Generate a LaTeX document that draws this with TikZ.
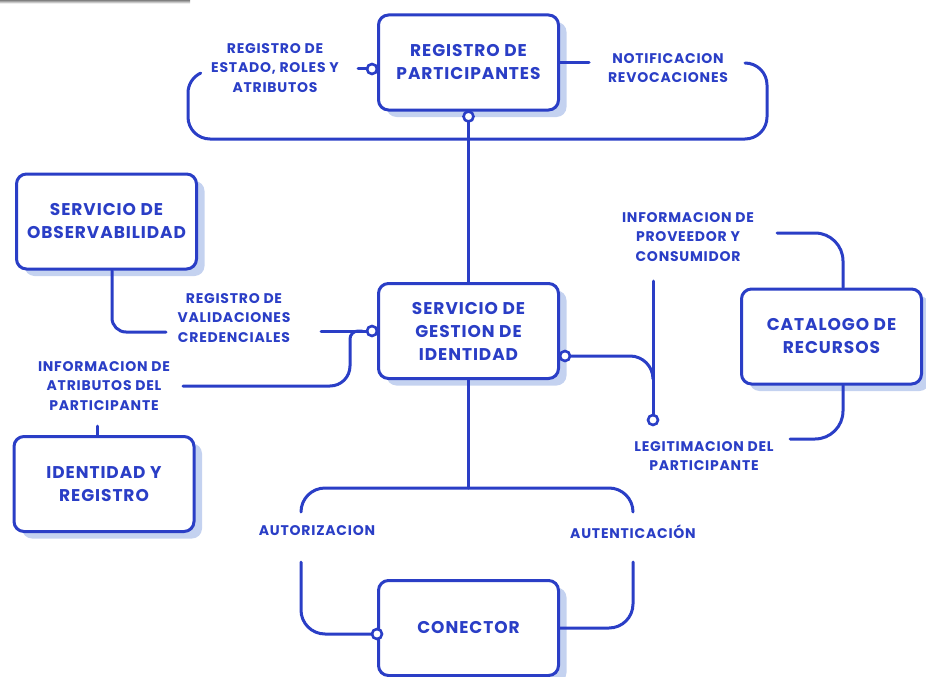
\documentclass[tikz,border=0pt]{standalone}
\usepackage{fontspec}
\setmainfont{Poppins}[LetterSpace=5.5]
\usetikzlibrary{shadows,calc}
\definecolor{ink}{RGB}{42,62,198}
\definecolor{shade}{RGB}{196,210,240}
\begin{document}
\begin{tikzpicture}[x=1pt,y=-1pt,
  box/.style={draw=ink, line width=3pt, rounded corners=10pt, fill=white,
    minimum width=180pt, minimum height=95pt, align=center, text=ink,
    font=\bfseries\fontsize{17}{23}\selectfont,
    drop shadow={shadow xshift=8pt, shadow yshift=-7pt, fill=shade, opacity=1}},
  lbl/.style={text=ink, align=center, inner sep=0pt,
    font=\bfseries\fontsize{14}{19.5}\selectfont},
  wire/.style={draw=ink, line width=3pt, line cap=round},
  dot/.style={circle, draw=ink, line width=2.6pt, fill=white,
    minimum size=10pt, inner sep=0pt, outer sep=0pt}]
\useasboundingbox (0,0) rectangle (926,677);
\fill[shade] (0,0) rectangle (190,3.5);

% boxes
\node[box] (rp)  at (468.5,62.5) {REGISTRO DE\\PARTICIPANTES};
\node[box] (obs) at (106.5,221.5) {SERVICIO DE\\OBSERVABILIDAD};
\node[box] (sgi) at (468.5,331) {SERVICIO DE\\GESTION DE\\IDENTIDAD};
\node[box] (cat) at (831.5,336.5) {CATALOGO DE\\RECURSOS};
\node[box] (iyr) at (104,484) {IDENTIDAD Y\\REGISTRO};
\node[box] (con) at (468.5,628) {CONECTOR};

% labels
\node[lbl] (rpl)  at (275,68)  {REGISTRO DE\\ESTADO, ROLES Y\\ATRIBUTOS};
\node[lbl] (rpr)  at (668,68)  {NOTIFICACION\\REVOCACIONES};
\node[lbl] (val)  at (234,318) {REGISTRO DE\\VALIDACIONES\\CREDENCIALES};
\node[lbl] (att)  at (104,386) {INFORMACION DE\\ATRIBUTOS DEL\\PARTICIPANTE};
\node[lbl] (prov) at (688,237) {INFORMACION DE\\PROVEEDOR Y\\CONSUMIDOR};
\node[lbl] (leg)  at (704,456) {LEGITIMACION DEL\\PARTICIPANTE};
\node[lbl] (autz) at (317,531) {AUTORIZACION};
\node[lbl] (autn) at (633,532) {AUTENTICACIÓN};

% free ends of the connectors
\coordinate (rplend) at (358,69);
\coordinate (rprend) at (589,62.5);
\coordinate (valend) at (321,331);
\coordinate (attend) at (183,386);
\coordinate (provtop) at (653,281);
\coordinate (catin) at (777,233);
\coordinate (catout) at (790,439);

% registro de participantes
\node[dot, anchor=north] (rpdot) at (rp.south) {};
\draw[wire] (rpdot.south) -- (rpdot.south |- sgi.north);
\draw[wire] (745,63) arc[start angle=-90,end angle=0,radius=22] -- (767,117)
  arc[start angle=0,end angle=90,radius=22] -- (210,139)
  arc[start angle=90,end angle=180,radius=22] -- (188,93)
  arc[start angle=180,end angle=245,radius=22];
\node[dot, anchor=east] (rpldot) at ($(rp.west)+(0,6.5)$) {};
\draw[wire] (rplend) -- (rpldot.west);
\draw[wire] (rp.east) -- (rprend);

% observabilidad and atributos
\draw[wire, rounded corners=14pt] ($(obs.south)+(5.5,0)$) |- (166,332);
\node[dot, anchor=east] (sgidot) at (sgi.west) {};
\draw[wire] (valend) -- (sgidot.west);
\draw[wire] (362,331) -- (358,331) arc[start angle=-90,end angle=-180,radius=8]
  -- (350,366) arc[start angle=0,end angle=90,radius=20] -- (attend);
\draw[wire] ($(iyr.north)+(-7,-9)$) -- ($(iyr.north)+(-7,0)$);

% catalogo de recursos
\node[dot, anchor=west] (sgrdot) at ($(sgi.east)+(0,25)$) {};
\node[dot] (legdot) at (653,420) {};
\draw[wire] (provtop) -- (legdot.north);
\draw[wire] (sgrdot.east) -- (630,356) arc[start angle=-90,end angle=0,radius=23];
\draw[wire] (catin) -- (815,233) arc[start angle=-90,end angle=0,radius=28]
  -- ($(cat.north)+(11.5,0)$);
\draw[wire] ($(cat.south)+(11.5,0)$) -- (843,411)
  arc[start angle=0,end angle=90,radius=28] -- (catout);

% conector
\draw[wire] (sgi.south) -- (468.5,488);
\draw[wire] (301,512) arc[start angle=180,end angle=270,radius=24] -- (609,488)
  arc[start angle=-90,end angle=0,radius=24];
\node[dot] (condot) at ($(con.west)+(0,6)$) {};
\draw[wire] (301,562) -- (301,610) arc[start angle=180,end angle=90,radius=24]
  -- (condot.west);
\draw[wire] (633,562) -- (633,604) arc[start angle=0,end angle=90,radius=24]
  -- (con.east |- 609,628);
\end{tikzpicture}
\end{document}
